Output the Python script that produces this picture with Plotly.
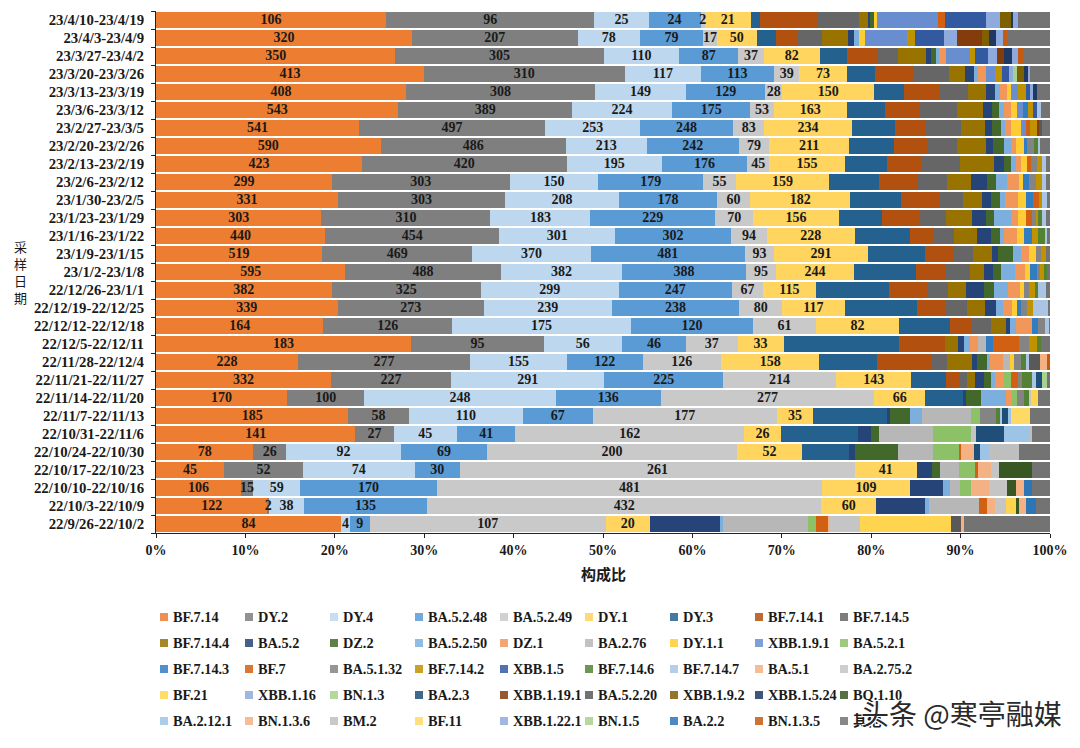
import plotly.graph_objects as go

dates = ["23/4/10-23/4/19","23/4/3-23/4/9","23/3/27-23/4/2","23/3/20-23/3/26","23/3/13-23/3/19","23/3/6-23/3/12",
"23/2/27-23/3/5","23/2/20-23/2/26","23/2/13-23/2/19","23/2/6-23/2/12","23/1/30-23/2/5","23/1/23-23/1/29",
"23/1/16-23/1/22","23/1/9-23/1/15","23/1/2-23/1/8","22/12/26-23/1/1","22/12/19-22/12/25","22/12/12-22/12/18",
"22/12/5-22/12/11","22/11/28-22/12/4","22/11/21-22/11/27","22/11/14-22/11/20","22/11/7-22/11/13","22/10/31-22/11/6",
"22/10/24-22/10/30","22/10/17-22/10/23","22/10/10-22/10/16","22/10/3-22/10/9","22/9/26-22/10/2"]

names = ["BF.7.14","DY.2","DY.4","BA.5.2.48","BA.5.2.49","DY.1","DY.3","BF.7.14.1","BF.7.14.5",
"BF.7.14.4","BA.5.2","DZ.2","BA.5.2.50","DZ.1","BA.2.76","DY.1.1","XBB.1.9.1","BA.5.2.1",
"BF.7.14.3","BF.7","BA.5.1.32","BF.7.14.2","XBB.1.5","BF.7.14.6","BF.7.14.7","BA.5.1","BA.2.75.2",
"BF.21","XBB.1.16","BN.1.3","BA.2.3","XBB.1.19.1","BA.5.2.20","XBB.1.9.2","XBB.1.5.24","BQ.1.10",
"BA.2.12.1","BN.1.3.6","BM.2","BF.11","XBB.1.22.1","BN.1.5","BA.2.2","BN.1.3.5","其他"]

colors = ["#ED7D31","#7F7F7F","#BDD7EE","#5B9BD5","#C9C9C9","#FFD45F","#25618F","#B1500F","#666666",
"#997300","#264478","#43682B","#7CAFDD","#F1975A","#B7B7B7","#FFCD33","#698ED0","#8CC168",
"#327DC2","#D26012","#848484","#C09200","#335AA1","#548235","#A9C5E3","#F4B183","#C5C5C5",
"#FFD54F","#8FAADC","#A9D18E","#1F4E79","#843C0C","#595959","#7F6000","#203864","#385723",
"#9DC3E6","#F4B183","#BFBFBF","#FFD966","#8FAADC","#A9D18E","#2E75B6","#C55A11","#737373"]

# labelled counts
BF_7_14 = [106,320,350,413,408,543,541,590,423,299,331,303,440,519,595,382,339,164,183,228,332,170,185,141,78,45,106,122,84]
DY_2 = [96,207,305,310,308,389,497,486,420,303,303,310,454,469,488,325,273,126,95,277,227,100,58,27,26,52,15,2,0]
DY_4 = [25,78,110,117,149,224,253,213,195,150,208,183,301,370,382,299,239,175,56,155,291,248,110,45,92,74,59,38,4]
BA_5_2_48 = [24,79,87,113,129,175,248,242,176,179,178,229,302,481,388,247,238,120,46,122,225,136,67,41,69,30,170,135,9]
BA_5_2_49 = [2,17,37,39,28,53,83,79,45,55,60,70,94,93,95,67,80,61,37,126,214,277,177,162,200,261,481,432,107]
DY_1 = [21,50,82,73,150,163,234,211,155,159,182,156,228,291,244,115,117,82,33,158,143,66,35,26,52,41,109,60,20]
labelled = [BF_7_14, DY_2, DY_4, BA_5_2_48, BA_5_2_49, DY_1]

# unlabelled lineages, read as percent of each bar
w00 = {"DY.3":1.1,"BF.7.14.1":6.4,"BF.7.14.5":4.6,"BF.7.14.4":1.0,"BA.5.2":.3,"DZ.2":.4,"DY.1.1":.4,"XBB.1.9.1":6.8,"BF.7":.7,"XBB.1.5":4.6,"XBB.1.16":1.6,"XBB.1.9.2":1.3,"XBB.1.5.24":.2,"XBB.1.22.1":.5,"其他":3.6}
w01 = {"DY.3":2.15,"BF.7.14.1":2.5,"BF.7.14.5":2.6,"BF.7.14.4":2.9,"BA.5.2":.75,"BA.5.2.50":.5,"DY.1.1":.7,"XBB.1.9.1":4.7,"BF.7.14.2":.9,"XBB.1.5":3.2,"XBB.1.16":1.5,"XBB.1.19.1":2.8,"XBB.1.9.2":.75,"XBB.1.5.24":.8,"XBB.1.22.1":.75,"BN.1.3.5":.5,"其他":4.8}
w02 = {"DY.3":3.0,"BF.7.14.1":3.5,"BF.7.14.5":2.3,"BF.7.14.4":3.1,"BA.5.2":.55,"DZ.2":.5,"BA.5.2.50":.4,"DZ.1":.75,"XBB.1.9.1":2.7,"BF.7.14.2":.6,"XBB.1.5":1.4,"XBB.1.16":1.0,"XBB.1.19.1":.85,"XBB.1.5.24":.8,"XBB.1.22.1":.7,"BN.1.3.5":.7,"其他":2.9}
w03 = {"DY.3":3.2,"BF.7.14.1":4.35,"BF.7.14.5":3.9,"BF.7.14.4":1.75,"BA.5.2":1.05,"BA.5.2.50":.45,"DZ.1":.85,"XBB.1.9.1":1.1,"BF.7.14.2":.75,"XBB.1.5":.8,"XBB.1.16":.4,"BN.1.3":.5,"XBB.1.9.2":.7,"XBB.1.5.24":.5,"XBB.1.22.1":.2,"其他":2.25}
w04 = {"DY.3":3.3,"BF.7.14.1":3.9,"BF.7.14.5":3.25,"BF.7.14.4":2.0,"BA.5.2":1.0,"BA.5.2.50":.6,"DZ.1":.75,"DY.1.1":.5,"XBB.1.9.1":.8,"BF.7.14.2":.9,"XBB.1.5":.4,"XBB.1.16":.35,"XBB.1.5.24":.4,"其他":1.5}
w05 = {"DY.3":4.25,"BF.7.14.1":4.0,"BF.7.14.5":4.1,"BF.7.14.4":2.9,"BA.5.2":1.0,"DZ.2":.75,"BA.5.2.50":.65,"DZ.1":.75,"DY.1.1":.65,"XBB.1.9.1":.65,"BF.7.14.3":.55,"BF.7.14.2":.6,"XBB.1.5":.4,"BF.7.14.7":.45,"其他":1.05}
w06 = {"DY.3":4.85,"BF.7.14.1":3.45,"BF.7.14.5":3.85,"BF.7.14.4":2.7,"BA.5.2":.85,"DZ.2":1.0,"BA.5.2.50":.45,"DZ.1":.65,"DY.1.1":1.1,"XBB.1.9.1":.55,"BF.7":.5,"BF.7.14.2":.7,"XBB.1.19.1":.3,"BA.5.2.20":.25,"其他":.95}
w07 = {"DY.3":4.95,"BF.7.14.1":3.75,"BF.7.14.5":3.3,"BF.7.14.4":3.25,"BA.5.2":.8,"DZ.2":1.25,"BA.5.2.50":.75,"DZ.1":.65,"DY.1.1":.8,"BF.7.14.3":.4,"BA.5.1.32":.8,"BF.7.14.6":.45,"BF.7.14.7":.2,"其他":1.1}
w08 = {"DY.3":4.7,"BF.7.14.1":3.9,"BF.7.14.5":4.25,"BF.7.14.4":3.8,"BA.5.2":1.1,"DZ.2":.8,"BA.5.2.50":.55,"DZ.1":.65,"DY.1.1":.65,"BA.5.1.32":.75,"BF.7":.4,"BF.7.14.2":.55,"BF.7.14.7":.35,"其他":.5}
w09 = {"DY.3":5.55,"BF.7.14.1":4.35,"BF.7.14.5":3.3,"BF.7.14.4":2.65,"BA.5.2":1.85,"DZ.2":.95,"BA.5.2.50":1.25,"DZ.1":1.3,"DY.1.1":.5,"BF.7.14.3":.65,"BA.5.1.32":.75,"BF.7.14.2":.75,"BF.7.14.7":.45,"其他":.4}
w10 = {"DY.3":5.7,"BF.7.14.1":4.3,"BF.7.14.5":2.6,"BF.7.14.4":2.1,"BA.5.2":1.05,"DZ.2":1.05,"BA.5.2.50":.55,"DZ.1":1.45,"DY.1.1":.85,"BF.7.14.3":.85,"BF.7":.65,"BF.7.14.2":.35,"BF.7.14.7":.55,"其他":.3}
w11 = {"DY.3":4.9,"BF.7.14.1":4.1,"BF.7.14.5":3.0,"BF.7.14.4":2.95,"BA.5.2":1.5,"DZ.2":.95,"BA.5.2.50":1.85,"DZ.1":.85,"DY.1.1":.9,"BA.5.1.32":.5,"BF.7":.65,"BF.7.14.2":.2,"BF.7.14.6":.4,"BF.7.14.7":.4,"其他":.5}
w12 = {"DY.3":6.15,"BF.7.14.1":2.7,"BF.7.14.5":2.3,"BF.7.14.4":2.55,"BA.5.2":1.55,"DZ.2":1.05,"BA.5.2.50":.45,"DZ.1":1.4,"DY.1.1":.8,"BF.7.14.3":.85,"BF.7.14.2":.75,"BF.7.14.6":.85,"BF.7.14.7":.15,"其他":.3}
w13 = {"DY.3":6.45,"BF.7.14.1":3.15,"BF.7.14.5":2.15,"BF.7.14.4":2.2,"BA.5.2":.65,"DZ.2":1.7,"BA.5.2.50":.8,"DZ.1":1.0,"DY.1.1":.75,"BA.5.1.32":.5,"BF.7.14.2":.65,"其他":.4}
w14 = {"DY.3":7.0,"BF.7.14.1":3.3,"BF.7.14.5":2.7,"BF.7.14.4":1.6,"BA.5.2":.95,"DZ.2":.95,"BA.5.2.50":1.5,"DZ.1":1.1,"DY.1.1":.65,"BF.7.14.3":.7,"BA.5.1.32":.4,"BF.7.14.2":.45,"BF.7.14.6":.35,"其他":.3}
w15 = {"DY.3":8.15,"BF.7.14.1":4.35,"BF.7.14.5":2.25,"BF.7.14.4":2.05,"BA.5.2":2.05,"DZ.2":1.1,"BA.5.2.50":1.55,"DZ.1":1.35,"DY.1.1":.4,"BA.5.1.32":.65,"BF.7.14.2":.6,"BF.7.14.6":.4,"BF.7.14.7":.85,"其他":.45}
w16 = {"DY.3":8.05,"BF.7.14.1":3.25,"BF.7.14.5":2.4,"BF.7.14.4":2.0,"BA.5.2":1.2,"BA.5.2.50":.75,"DZ.1":1.0,"DY.1.1":.6,"BF.7.14.3":.45,"BA.5.1.32":.65,"BF.7.14.2":.75,"BF.7.14.7":1.7,"其他":.15}
w17 = {"DY.3":5.65,"BF.7.14.1":2.4,"BF.7.14.5":2.2,"BF.7.14.4":1.65,"BA.5.2":.45,"BA.5.2.50":.75,"DZ.1":1.7,"BF.7.14.3":.7,"BA.5.1.32":.8,"BF.7.14.7":.45,"其他":.1}
w18 = {"DY.3":12.95,"BF.7.14.1":5.05,"BF.7.14.4":1.55,"BA.5.2":.65,"BA.5.2.50":.65,"DZ.1":.9,"BA.2.76":.85,"BF.7.14.3":.8,"BF.7":2.9,"BA.5.1.32":1.1,"BF.7.14.2":.95,"BF.7.14.6":.45,"其他":1.0}
w19 = {"DY.3":6.5,"BF.7.14.1":6.1,"BF.7.14.5":1.65,"BF.7.14.4":2.8,"BA.5.2":.6,"DZ.2":1.1,"BA.5.2.50":.35,"DZ.1":1.4,"BA.2.76":.85,"DY.1.1":.45,"BA.5.1.32":.75,"BF.7.14.6":.55,"BF.7.14.7":.4,"BA.5.2.20":1.15,"BN.1.3.6":.8,"BN.1.3.5":.35}
w20 = {"DY.3":3.9,"BF.7.14.1":1.5,"BF.7.14.5":.85,"BF.7.14.4":.9,"BA.5.2":.95,"DZ.2":.85,"BA.5.2.50":.35,"DZ.1":1.05,"BA.5.2.1":.75,"BF.7":.8,"BA.5.1.32":.5,"BF.7.14.6":1.05,"BF.7.14.7":.5,"BA.2.3":.65,"BN.1.5":.6,"其他":.3}
w21 = {"DY.3":4.3,"BA.5.2":.2,"DZ.2":1.7,"BA.5.2.50":2.8,"DZ.1":.65,"BA.5.2.1":.65,"BA.5.1.32":.75,"BF.7.14.6":.55,"BA.2.75.2":.25,"BF.21":.8,"其他":1.3}
w22 = {"DY.3":8.35,"BA.5.2":.2,"DZ.2":2.25,"BA.5.2.50":1.4,"BA.2.76":5.5,"BA.5.2.1":.95,"BA.5.1.32":1.85,"BF.7.14.6":.4,"BF.7.14.7":.25,"BA.2.3":.65,"BA.2.12.1":.35,"BF.11":2.1,"其他":2.25}
w23 = {"DY.3":8.65,"BA.5.2":1.4,"DZ.2":.95,"BA.2.76":6.05,"BA.5.2.1":4.2,"BA.2.75.2":.6,"BA.2.3":3.05,"BA.2.12.1":3.0,"BM.2":.2,"其他":2.0}
w24 = {"DY.3":5.3,"BA.5.2":.65,"DZ.2":4.75,"BA.2.76":3.95,"BA.5.2.1":3.0,"BF.7":.1,"BA.5.1":1.5,"BA.2.3":.7,"BA.2.12.1":1.0,"BM.2":3.35,"其他":3.45}
w25 = {"BA.5.2":1.75,"DZ.2":.9,"BA.2.76":2.1,"BA.5.2.1":1.85,"BF.7":.2,"BA.5.1":1.55,"BA.2.75.2":.85,"BQ.1.10":3.65,"其他":2.05}
w26 = {"BA.5.2":3.75,"BA.5.2.50":.8,"BA.2.76":1.1,"BA.5.2.1":1.25,"BA.5.1":2.0,"BA.2.75.2":2.0,"BQ.1.10":.95,"BN.1.3.6":.9,"BA.2.2":.95,"其他":2.0}
w27 = {"BA.5.2":5.45,"BA.5.2.50":.45,"BA.2.76":5.6,"BF.7":.95,"BA.5.1":.8,"BA.2.75.2":1.3,"BF.21":1.1,"BQ.1.10":.35,"BN.1.3.6":.8,"BA.2.2":1.1,"其他":1.55}
w28 = {"BA.5.2":7.83,"BA.5.2.50":.4,"BA.2.76":9.45,"BA.5.2.1":.95,"BF.7":1.3,"BA.5.1":.25,"BA.2.75.2":3.4,"BF.21":10.1,"BA.5.2.20":1.25,"BN.1.3.6":.2,"其他":9.65}
shares = [w00,w01,w02,w03,w04,w05,w06,w07,w08,w09,w10,w11,w12,w13,w14,w15,w16,w17,w18,w19,w20,w21,w22,w23,w24,w25,w26,w27,w28]

axis_title_y = "采样日期"
axis_title_x = "构成比"
watermark = "头条 @寒亭融媒"
serif = "Liberation Serif"
cjk = "Noto Sans CJK SC"
ink = "#1a1a1a"

L, R, T, B = 156, 1050, 11, 533
W, H = 1080, 748

def px(x):
    return (x - L) / (R - L)

def py(y):
    return (B - y) / (B - T)

totals = []
for i, row in enumerate(shares):
    counted = sum(s[i] for s in labelled)
    totals.append(counted / (1 - sum(row.values()) / 100))

fig = go.Figure()
for k, name in enumerate(names):
    if k < len(labelled):
        vals = labelled[k]
    else:
        vals = [shares[i].get(name, 0) * totals[i] / 100 for i in range(len(dates))]
    fig.add_trace(go.Bar(
        y=dates, x=vals, name=name, orientation="h",
        marker=dict(color=colors[k], line=dict(width=0)),
        hoverinfo="name+x", showlegend=False,
    ))

# count labels, drawn above every bar so narrow ones stay readable
running = [0.0] * len(dates)
for k, vals in enumerate(labelled):
    mids, ys, tx = [], [], []
    for i, v in enumerate(vals):
        if v:
            mids.append((running[i] + v / 2) / totals[i] * 100)
            ys.append(dates[i])
            tx.append(f"<b>{v}</b>")
        running[i] += v
    fig.add_trace(go.Scatter(x=mids, y=ys, text=tx, mode="text", textposition="middle center",
                             textfont=dict(family=serif, size=14, color=ink),
                             hoverinfo="skip", showlegend=False, cliponaxis=False))

shapes, notes = [], []
# hand-placed legend grid: 9 columns, 5 rows
for k, name in enumerate(names):
    cx = 160 + 85 * (k % 9)
    cy = 617 + 26 * (k // 9)
    shapes.append(dict(type="rect", xref="paper", yref="paper", layer="above",
                       x0=px(cx), x1=px(cx + 8), y0=py(cy + 4), y1=py(cy - 4),
                       fillcolor=colors[k], line=dict(width=0), opacity=0.85))
    notes.append(dict(xref="paper", yref="paper", x=px(cx + 10.5), y=py(cy),
                      text=f"<b>{name}</b>", showarrow=False, xanchor="left", yanchor="middle",
                      font=dict(family=serif + ", " + cjk, size=14.3, color=ink)))
notes.append(dict(xref="paper", yref="paper", x=px(603), y=py(573),
                  text=f"<b>{axis_title_x}</b>", showarrow=False, xanchor="center", yanchor="middle",
                  font=dict(family=cjk, size=15, color=ink)))
notes.append(dict(xref="paper", yref="paper", x=px(20), y=py(272),
                  text="<br>".join(axis_title_y), showarrow=False, xanchor="center", yanchor="middle",
                  font=dict(family=cjk, size=13, color=ink)))
notes.append(dict(xref="paper", yref="paper", x=px(961), y=py(713),
                  text=watermark, showarrow=False, xanchor="center", yanchor="middle",
                  font=dict(family=cjk, size=28, color="#2a2a2a",
                            shadow="-1px -1px 0 #fff, 1px 1px 0 #fff, 1px -1px 0 #fff, -1px 1px 0 #fff")))

fig.update_layout(
    barmode="stack", barnorm="percent", bargap=0.07,
    width=W, height=H, autosize=False,
    margin=dict(l=L, r=W - R, t=T, b=H - B, pad=0),
    paper_bgcolor="white", plot_bgcolor="white",
    showlegend=False, shapes=shapes, annotations=notes,
    font=dict(family=serif, color=ink),
    xaxis=dict(range=[0, 100], tickvals=list(range(0, 101, 10)),
               ticktext=[f"<b>{v}%</b>" for v in range(0, 101, 10)],
               ticks="outside", ticklen=4, tickcolor="#222", showline=True, linecolor="#222",
               showgrid=False, zeroline=False, tickfont=dict(family=serif, size=14, color=ink)),
    yaxis=dict(categoryorder="array", categoryarray=dates, range=[len(dates) - 0.5, -0.5],
               tickmode="array", tickvals=dates, ticktext=[f"<b>{d}</b>" for d in dates],
               tickson="boundaries", ticks="outside", ticklen=4, tickcolor="#222",
               ticklabelstandoff=8,
               showline=True, linecolor="#222", showgrid=False,
               tickfont=dict(family=serif, size=14.8, color=ink)),
)
fig.write_html("out.html", config=dict(displayModeBar=False),
               post_script="document.body.style.margin='0';document.body.style.overflow='hidden';window.dispatchEvent(new Event('resize'));")
